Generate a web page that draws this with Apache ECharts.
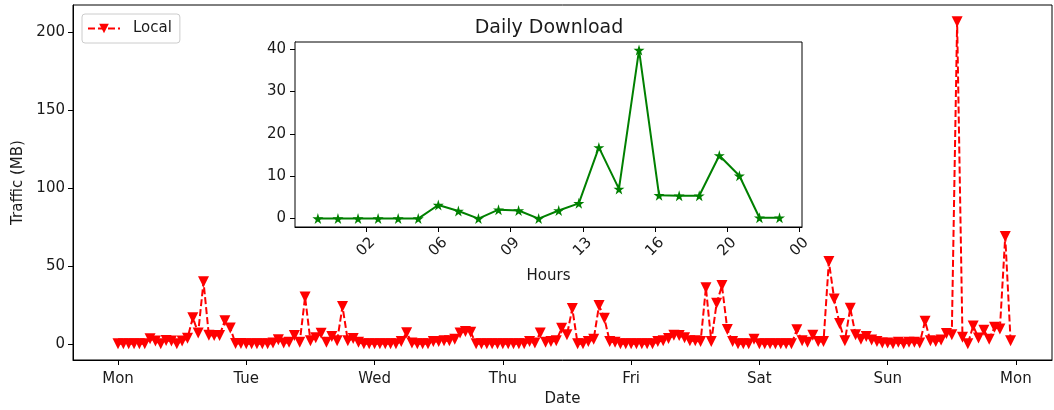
<!DOCTYPE html>
<html>
<head>
<meta charset="utf-8">
<script src="https://cdn.jsdelivr.net/npm/echarts@6/dist/echarts.min.js"></script>
<style>
  html, body { margin: 0; padding: 0; background: #fff; }
  #main { width: 1054px; height: 410px; }
</style>
</head>
<body>
<div id="main"></div>
<script>
// Hourly traffic (MB), one array per day, Mon 00:00 .. Sun 23:00
const mon = [0, 0, 0, 0, 0, 0, 3.2, 1.8, 0, 2.1, 1.9, 0, 1.9, 3.6, 16.8, 7.0, 39.8, 5.5, 5.4, 5.4, 14.9, 10.1, 0.2, 0.2];
const tue = [0, 0, 0, 0, 0, 0.5, 2.6, 0.5, 1, 5.3, 1, 30, 2, 4, 6.8, 1, 4.7, 2, 24, 2, 3.5, 1, 0, 0];
const wed = [0, 0, 0, 0, 0, 1.5, 7.2, 0.5, 0, 0, 0, 1.5, 1.5, 2, 2, 3, 7, 8, 7.5, 0, 0, 0, 0, 0];
const thu = [0, 0, 0, 0, 0, 1.5, 0.5, 7, 1, 1.5, 2, 10, 5.8, 22.7, 0, 0, 1.5, 3, 24.6, 16.4, 1.5, 1, 0, 0];
const fri = [0, 0, 0, 0, 0, 1.5, 2, 3.5, 5.5, 5.3, 4, 2, 2, 1.5, 36, 1.5, 26, 37.4, 9.2, 1.5, 0, 0, 0, 3];
const sat = [0, 0, 0, 0, 0, 0, 0, 9, 2, 1, 5.5, 1.5, 1.5, 52.8, 28.8, 13, 2, 22.9, 5.8, 3, 4.8, 2.5, 1.5, 0.5];
const sun = [0.5, 0, 1, 0, 1, 1, 0.5, 14.5, 2, 1.5, 2.5, 6.6, 5.8, 206.6, 4.2, 0, 11.5, 3.8, 8.8, 3, 10.6, 9.6, 68.8, 2];

// Tick labels
const dayTickValues = [0, 24, 48, 72, 96, 120, 144, 168];
const dayTickLabels = ["Mon", "Tue", "Wed", "Thu", "Fri", "Sat", "Sun", "Mon"];
const trafficTicks = [0, 50, 100, 150, 200];
const hourTickValues = [2.4, 6, 9.6, 13.2, 16.8, 20.4, 24];
const hourTickLabels = ["02", "06", "09", "13", "16", "20", "00"];
const dailyTicks = [0, 10, 20, 30, 40];

const week = [mon, tue, wed, thu, fri, sat, sun];
const weekData = [];
week.forEach((day, d) => day.forEach((v, h) => weekData.push([d * 24 + h, v])));
const dayData = mon.map((v, h) => [h, v]);

const font = "DejaVu Sans";
const txt = "#1a1a1a";
const starPath = "path://M50,0 L61,35 L98,35 L68,57 L79,91 L50,70 L21,91 L32,57 L2,35 L39,35 Z";

let myChart = echarts.init(document.getElementById("main"));

const axisBase = {
  axisLine: { show: true, onZero: false, lineStyle: { color: "#000", width: 1 } },
  axisTick: { show: true, inside: false, length: 5, lineStyle: { color: "#000" } },
  splitLine: { show: false },
  nameTextStyle: { color: txt, fontFamily: font, fontSize: 15 },
};

let options = {
  animation: false,
  backgroundColor: "#fff",
  textStyle: { fontFamily: font },
  title: {
    text: "Daily Download",
    left: 544,
    top: 14,
    textAlign: "center",
    textStyle: { color: txt, fontFamily: font, fontSize: 19, fontWeight: "normal" },
  },
  legend: {
    left: 82,
    top: 14,
    orient: "vertical",
    data: ["Local"],
    itemWidth: 32,
    itemHeight: 12,
    padding: [7, 8, 7, 5],
    borderColor: "#ccc",
    borderWidth: 1,
    borderRadius: 3,
    backgroundColor: "#fff",
    textStyle: { color: txt, fontFamily: font, fontSize: 15, padding: [0, 0, 0, 8] },
  },
  grid: [
    { left: 73, top: 5, width: 979, height: 355, outerBoundsMode: "none", show: true, borderColor: "#000", borderWidth: 1 },
    { left: 295, top: 42, width: 507, height: 185, outerBoundsMode: "none", show: true, borderColor: "#000", borderWidth: 1, backgroundColor: "#fff", z: 5 },
  ],
  xAxis: [
    {
      ...axisBase,
      gridIndex: 0,
      type: "value",
      min: -8.42,
      max: 174.75,
      name: "Date",
      nameLocation: "middle",
      nameGap: 32,
      axisTick: { ...axisBase.axisTick, customValues: dayTickValues },
      axisLabel: {
        customValues: dayTickValues,
        margin: 12,
        color: txt,
        fontFamily: font,
        fontSize: 15,
        formatter: (v) => dayTickLabels[dayTickValues.indexOf(v)],
      },
    },
    {
      ...axisBase,
      gridIndex: 1,
      type: "value",
      min: -1.14,
      max: 24.12,
      name: "Hours",
      nameLocation: "middle",
      nameGap: 42,
      axisTick: { ...axisBase.axisTick, customValues: hourTickValues },
      axisLabel: {
        customValues: hourTickValues,
        rotate: 45,
        align: "center",
        verticalAlign: "middle",
        margin: 20,
        color: txt,
        fontFamily: font,
        fontSize: 15,
        formatter: (v) => hourTickLabels[hourTickValues.indexOf(v)],
      },
    },
  ],
  yAxis: [
    {
      ...axisBase,
      gridIndex: 0,
      type: "value",
      min: -10.35,
      max: 217.35,
      name: "Traffic (MB)",
      nameLocation: "middle",
      nameGap: 47,
      axisTick: { ...axisBase.axisTick, customValues: trafficTicks },
      axisLabel: { customValues: trafficTicks, margin: 8, color: txt, fontFamily: font, fontSize: 15 },
    },
    {
      ...axisBase,
      gridIndex: 1,
      type: "value",
      min: -1.99,
      max: 41.7,
      axisTick: { ...axisBase.axisTick, customValues: dailyTicks },
      axisLabel: { customValues: dailyTicks, margin: 9, color: txt, fontFamily: font, fontSize: 15 },
    },
  ],
  series: [
    {
      name: "Local",
      type: "line",
      xAxisIndex: 0,
      yAxisIndex: 0,
      data: weekData,
      symbol: "triangle",
      symbolRotate: 180,
      symbolSize: 11,
      showAllSymbol: true,
      itemStyle: { color: "#ff0000" },
      lineStyle: { color: "#ff0000", width: 2, type: [7, 3] },
    },
    {
      name: "Daily",
      type: "line",
      xAxisIndex: 1,
      yAxisIndex: 1,
      z: 6,
      data: dayData,
      symbol: starPath,
      symbolSize: 11,
      showAllSymbol: true,
      itemStyle: { color: "#008000" },
      lineStyle: { color: "#008000", width: 2 },
    },
  ],
};
myChart.setOption(options);
</script>
</body>
</html>
